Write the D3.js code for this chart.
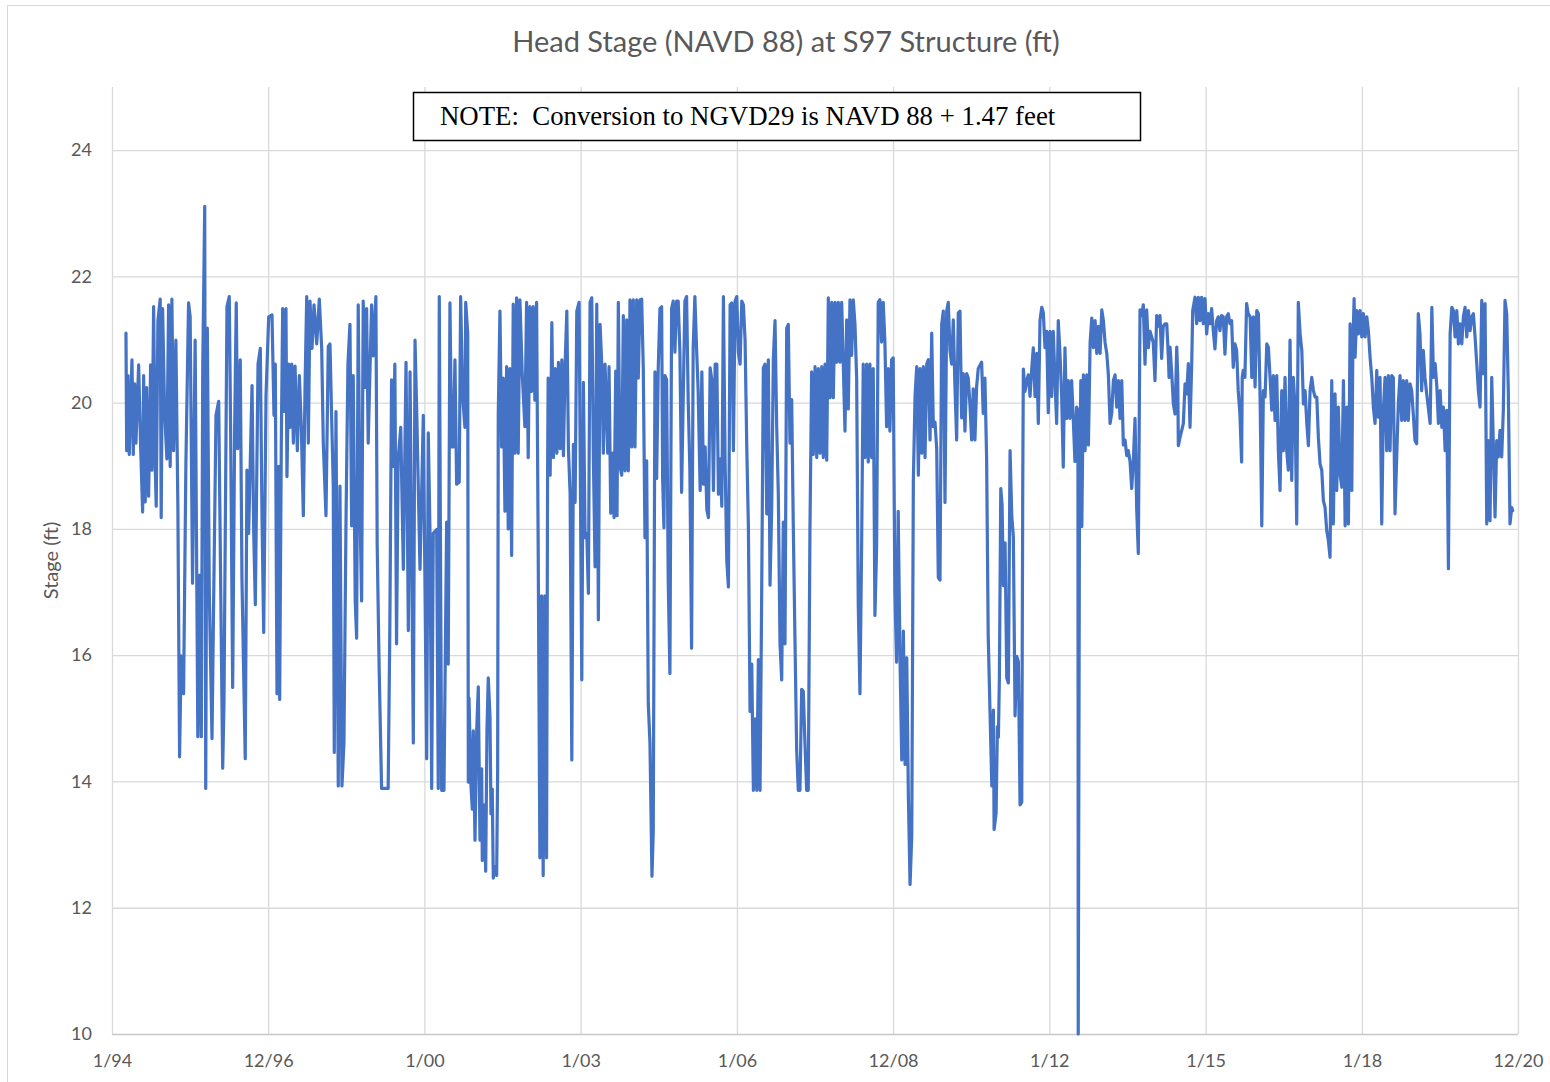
<!DOCTYPE html>
<html><head><meta charset="utf-8">
<script src="https://cdn.jsdelivr.net/npm/d3@7"></script>
<style>
body{margin:0;background:#fff;}
svg{display:block;}
</style></head><body>
<svg id="chart" width="1550" height="1082"></svg>
<script>
const titleText = "Head Stage (NAVD 88) at S97 Structure (ft)";
const noteText = "NOTE:  Conversion to NGVD29 is NAVD 88 + 1.47 feet";
const yAxisTitle = "Stage (ft)";
const yTicks = [10, 12, 14, 16, 18, 20, 22, 24];
const yDomain = [10, 25];
const xTickDates = ["1994-01-01","1996-12-31","2000-01-01","2003-01-01","2006-01-01","2008-12-31","2012-01-01","2015-01-01","2018-01-01","2020-12-31"];
const startDate = "1994-01-01";
const endDate = "2020-12-31";

// [weeks since 1994-01-01, head stage ft NAVD88]
const stage1994 = [[14,21.1],[14.7,19.24],[16,20.43],[17.3,19.18],[20,20.68],[21.3,19.18],[22.7,20.3],[24,19.36],[26.7,20.6],[28.7,19.3],[30.7,18.27],[31.7,20.43],[33.3,18.43],[34.7,20.24],[36.7,18.52],[38.7,20.6],[40,18.93],[41.7,21.52],[43.3,18.99],[44.3,18.36],[46,21.3],[48.3,21.64],[49.3,18.18],[50.7,21.49],[52.7,19.86],[55,19.11],[56.7,21.55],[58.3,18.99],[60,21.64],[61.7,19.24],[64,20.99],[66,18.36],[67.7,14.39],[69.3,15.99],[71.7,15.39],[74,18.99],[76.7,21.58],[78.3,21.36],[80.7,17.14],[83.3,20.99],[86,14.71],[88,17.27],[89.5,14.71],[90.9,20.55],[92.9,23.11],[93.9,13.89],[95.5,21.18],[97.5,16.99],[100.2,14.68],[101.9,16.93],[104.2,19.8],[106.9,20.02],[108.9,17.11],[110.9,14.21],[112.2,15.24],[115.2,21.52],[117.5,21.68],[118.9,19.49],[120.9,15.49],[122.9,19.61],[124.5,21.58],[125.9,19.27],[128.5,20.68],[130.2,17.21],[133.5,14.36],[135.2,18.93],[136.9,17.93],[140.3,20.27],[142,17.93],[143.6,16.8],[146.3,20.61],[148.6,20.86],[150.3,18.18],[152,16.36],[154.3,20.11],[157,21.36],[160.3,21.39],[162.3,19.8],[163.6,20.61],[165.3,15.39],[167,18.99],[168,15.3],[169.6,19.3],[171,21.49],[172.6,19.86],[174.3,21.49],[175.3,18.83],[177,20.61]];
const stage1997 = [[178.4,19.61],[180.1,20.61],[181.7,19.36],[183.4,20.58],[185.7,19.24],[187.7,20.43],[189.7,19.61],[191.7,18.21],[193.4,20.24],[195.1,21.68],[196.7,19.36],[198.4,21.61],[200.4,20.86],[202.4,21.55],[205.1,20.93],[207.7,21.64],[210.1,20.86],[211.7,19.36],[214.4,18.21],[216.7,20.89],[218.4,20.93],[220.1,19.74],[221.7,18.68],[222.7,14.46],[224.4,19.86],[226.7,13.93],[228.4,18.68],[230.4,13.93],[232.4,14.61],[234.4,18.05],[236.4,20.61],[238.4,21.24],[240.1,18.05],[241.7,20.43],[243.7,16.86],[245.1,16.27],[246.7,21.55],[248.4,18.36],[250.1,16.86],[251.7,21.61],[253.4,20.24],[255.1,21.49],[256.7,19.36],[260.1,21.55],[261.7,20.74],[264.4,21.68],[265.7,17.74],[267.7,15.77],[270.1,13.89],[276.7,13.89],[278.4,16.49],[280.1,20.36],[281.7,18.99],[283.4,20.61],[285.1,16.18],[286.7,19.11],[289.3,19.61],[291.9,17.36],[294.6,20.64],[296.9,16.39],[298.6,20.49],[300.3,17.55],[301.9,14.61],[303.6,20.99],[305.3,19.86],[308.6,17.36],[311.9,19.8],[315.3,14.36],[316.9,19.52],[318.6,17.96],[320.3,13.89],[321.9,17.93],[325.3,17.99],[326.9,13.89],[327.9,21.68],[330.3,13.86],[332.6,13.86],[335.3,18.11],[336.9,15.86],[338.6,21.58],[340.3,19.3],[341.9,19.3],[343.6,20.68],[345.3,18.71],[347.9,18.74],[349.3,21.68],[351.3,20.11],[353.6,19.61]];
const stage2000 = [[354.4,21.59],[356.4,21.1],[357,13.99],[357.7,15.32],[359.7,13.92],[361,13.56],[362,14.8],[363.7,13.07],[365.4,14.8],[367,15.5],[368.7,13.07],[370.4,14.2],[371,12.75],[373,13.63],[374.4,12.58],[375.7,14.83],[377,15.64],[378.7,15.04],[379.7,13.49],[381,13.88],[382,12.47],[383.7,12.65],[385.4,12.51],[386.4,14.2],[387,19.8],[388.7,21.45],[390.4,19.3],[392,20.39],[393.7,18.28],[395.4,20.57],[397,18.0],[398.7,20.54],[400.4,17.58],[402,21.56],[403.7,19.2],[405.4,21.66],[407,19.2],[408.7,21.63],[411,20.46],[413.7,19.62],[415.4,21.59],[417,19.13],[418.7,21.52],[420.4,20.18],[422,21.52],[423.7,20.04],[425.4,21.59],[427,17.72],[428.7,12.79],[430.4,16.94],[432,12.51],[433.7,16.94],[435.4,12.79],[436.4,18.77],[437,20.39],[439,18.85],[440.7,21.27],[442.3,19.13],[444,20.54],[445.7,19.2],[447.3,20.64],[449,19.27],[450.7,20.68],[452.3,19.16],[454,20.61],[455.7,21.45],[457.3,19.27],[459,18.56],[460.7,14.34],[462.3,19.34],[464,18.42],[465.7,21.45],[468,21.59],[470.7,15.61],[472.3,20.32],[474,17.86],[475.7,17.93],[477.3,16.98],[479,21.59],[480.7,21.66],[482.3,19.13],[484,17.4],[485.7,21.56],[487.3,16.56],[489,21.24],[490.7,20.61],[492.3,19.2],[494,20.61],[496.7,19.2],[498,20.57],[499.7,18.25],[501.3,19.2],[503,18.18],[504.7,20.5],[506,18.21],[507.3,21.59],[509,18.99],[510.7,18.85],[512.3,21.38],[514,18.92],[515.7,21.31],[517.3,18.92],[519,21.63],[520.7,19.3],[522.3,21.63],[524,19.3],[525.7,21.63],[527.3,20.39],[529,21.63]];
const stage2003 = [[530.7,21.64],[532.3,20.55],[534,17.86],[535.7,19.08],[537.3,15.24],[539,14.61],[541,12.5],[542.3,13.2],[544,20.49],[545.7,18.8],[547.3,20.55],[549,21.49],[550.7,21.52],[551.7,18.8],[553,18.02],[554,20.43],[555.7,20.36],[557.3,17.18],[559,15.71],[560.7,21.49],[562.3,21.61],[564,20.8],[565.7,21.61],[567.3,21.61],[569,20.8],[570.7,18.58],[572.3,20.05],[574,21.61],[575.7,21.68],[577.3,20.05],[579,18.93],[580.7,16.11],[582.3,20.86],[584,21.68],[585.7,20.86],[587.3,20.18],[589.3,18.61],[591,20.49],[592.6,18.71],[594.3,19.3],[596,18.3],[597.6,18.18],[599.3,20.55],[601,20.36],[602.6,18.61],[604.3,20.61],[606,20.61],[607.6,18.55],[609.3,19.11],[611,18.36],[612.6,21.68],[614.3,19.05],[616,17.49],[617.6,17.08],[619.3,21.55],[621,21.58],[622.6,19.24],[624.3,21.61],[626,21.68],[627.6,20.8],[629.3,20.61],[631,21.61],[632.6,21.55],[634.3,20.99],[636,19.3],[637.6,18.05],[639.3,15.11],[641,15.86],[642.6,13.86],[644.3,14.99],[646,13.86],[647.6,15.93],[649.3,13.86],[651,17.11],[652.6,20.55],[654.3,20.61],[656,18.24],[657.6,20.68],[659.3,17.11],[661,18.36],[662.6,20.68],[664.3,21.3],[666,19.61],[667.6,18.55],[669.3,16.18],[671,15.61],[672.6,18.11],[674.3,16.18],[676,21.18],[677.6,21.24],[679.3,19.36],[681,20.05],[682.6,18.05],[684.3,16.24],[686,14.49],[687.6,13.86],[689.3,13.86],[691,15.46],[692.6,15.43],[694.3,14.61],[696,13.86],[697.6,13.86],[699.3,17.99],[701,20.49],[702.6,19.18]];
const stage2006 = [[704.4,20.57],[706.1,19.13],[707.7,20.54],[709.4,19.2],[711.1,20.57],[712.7,19.13],[714.4,20.61],[716.1,19.09],[717.7,21.66],[719.4,20.08],[721.1,21.59],[722.7,20.08],[724.4,21.59],[726.1,20.64],[727.7,21.59],[729.4,20.64],[731.1,21.59],[734.4,19.55],[736.1,21.31],[737.7,19.9],[739.4,21.63],[741.1,20.75],[742.7,21.63],[744.4,21.24],[746.1,20.39],[747.7,16.8],[749.4,15.39],[751.1,17.79],[752.7,20.61],[754.4,19.13],[756.1,20.61],[757.7,19.06],[759.4,20.61],[761.1,19.13],[762.7,20.54],[764.4,16.63],[766.1,17.72],[767.7,21.59],[769.4,21.63],[771.1,20.96],[772.7,21.59],[774.4,20.96],[776.1,19.62],[777.7,20.54],[779.4,19.55],[781.1,20.68],[782.7,20.71],[784.4,17.01],[786.1,15.89],[787.7,18.28],[789.6,15.89],[791.3,14.34],[792.9,16.38],[794.6,14.27],[796.3,15.96],[797.9,13.77],[799.6,12.37],[801.3,13.14],[802.9,18.77],[804.6,20.11],[806.3,20.57],[807.9,18.85],[809.6,20.54],[811.3,19.2],[812.9,20.57],[814.6,19.13],[816.3,20.61],[817.9,20.68],[819.6,19.41],[821.3,21.1],[822.9,19.62],[824.6,19.69],[826.3,19.27],[827.9,17.23],[829.6,17.19],[831.3,21.24],[832.9,21.45],[834.6,18.42],[836.3,21.45],[837.9,21.59],[839.6,20.82],[841.3,20.61],[842.9,21.31],[844.6,20.25],[846.3,19.41],[847.9,21.42],[849.6,21.45],[851.3,19.76],[852.9,20.46],[854.6,19.55],[856.3,20.46],[857.9,20.39],[859.6,19.97],[861.3,19.41],[862.9,20.22],[864.6,19.41],[866.3,20.25],[867.9,20.54],[871.3,20.64],[872.9,19.83],[874.6,20.39],[876.3,19.13],[877.9,16.31],[879.6,15.18]];
const stage2009 = [[881.5,13.93],[883.1,15.13],[883.8,13.24],[885.8,13.5],[887.1,14.87],[888.1,14.7],[889.1,15.64],[890.5,18.64],[891.8,18.38],[893.1,17.1],[894.8,17.78],[896.5,15.64],[898.1,15.56],[899.8,19.24],[901.5,18.21],[903.1,17.87],[904.8,15.04],[906.5,15.98],[908.1,15.9],[909.8,13.63],[911.5,13.67],[912.5,18.64],[913.1,20.53],[914.8,20.18],[916.5,20.35],[918.1,20.44],[919.8,20.1],[921.5,20.53],[923.1,20.87],[924.8,20.1],[926.5,20.78],[928.1,19.67],[929.8,21.3],[931.5,21.51],[933.1,21.43],[934.8,20.87],[936.5,21.13],[938.1,19.84],[939.8,21.13],[941.5,20.1],[943.1,21.13],[944.8,20.35],[946.5,19.67],[948.1,21.3],[949.8,20.78],[951.5,20.1],[953.1,18.98],[954.8,20.87],[956.5,19.75],[958.1,20.35],[959.8,19.75],[961.5,20.35],[963.1,19.75],[964.8,19.07],[966.5,19.93],[967.8,19.88],[968.1,10.0],[969.3,18.1],[970.7,20.35],[971.7,18.04],[973.3,20.44],[975,19.24],[976.7,20.44],[978.3,19.33],[980,20.95],[981.7,21.34],[983.3,20.87],[985,21.3],[986.7,20.78],[988.3,21.21],[990,20.78],[991.7,21.47],[993.3,21.3],[995,20.95],[996.7,20.78],[998.3,20.44],[1000,19.67],[1001.7,19.84],[1003.3,20.35],[1005,20.44],[1006.7,19.93],[1008.3,20.35],[1010,19.75],[1011.7,20.35],[1013.3,19.33],[1015,19.41],[1016.7,19.16],[1018.3,19.24],[1020,19.07],[1021.7,18.64],[1023.3,19.07],[1025,19.75],[1026.7,18.3],[1028.3,17.61],[1030,21.47],[1031.7,21.38],[1033.3,21.55],[1035,20.61],[1036.7,21.47],[1038.3,20.87],[1040,21.13],[1041.7,21.04],[1043.3,20.95],[1045,20.35],[1046.7,21.38],[1048.3,21.21],[1050,21.38],[1051.7,20.7],[1053.3,21.21]];
const stage2012 = [[1055.1,21.25],[1056.8,21.25],[1058.4,20.72],[1059.1,20.4],[1060.1,20.88],[1061.8,20.46],[1063.4,19.98],[1065.1,19.82],[1066.8,20.88],[1067.8,20.4],[1068.4,19.32],[1070.1,19.45],[1071.8,19.56],[1073.4,19.67],[1075.1,20.3],[1076.8,20.14],[1078.4,20.62],[1080.1,19.61],[1081.8,20.62],[1082.8,21.46],[1085.1,21.67],[1086.8,21.25],[1088.4,21.67],[1090.1,21.3],[1091.8,21.67],[1093.4,21.25],[1095.1,21.65],[1096.8,21.09],[1098.4,21.41],[1100.1,21.25],[1101.8,21.49],[1103.4,21.14],[1105.1,20.85],[1106.8,21.3],[1108.4,21.36],[1110.1,21.14],[1111.8,21.38],[1113.4,21.36],[1115.1,20.77],[1116.8,21.36],[1118.4,21.41],[1120.1,21.25],[1121.8,21.3],[1123.4,20.56],[1125.1,20.93],[1126.8,20.83],[1128.4,20.19],[1130.1,19.82],[1131.8,19.06],[1132.4,20.4],[1133.4,20.51],[1135.1,20.4],[1136.8,21.57],[1138.4,21.41],[1140.3,21.36],[1142,20.4],[1143.6,21.36],[1145.3,20.25],[1147,21.46],[1148.6,21.41],[1150.3,20.09],[1152,18.05],[1153.6,20.19],[1155.3,20.09],[1157,20.93],[1158.6,20.88],[1160.3,20.4],[1162,19.88],[1163.6,20.43],[1165.3,19.72],[1167,20.43],[1168.6,19.24],[1170.3,18.61],[1172,20.19],[1173.6,19.24],[1175.3,20.4],[1177,19.24],[1178.6,18.93],[1180.3,20.99],[1182,18.77],[1183.6,20.4],[1185.3,19.93],[1187,18.08],[1188.6,21.59],[1190.4,21.09],[1192.1,20.83],[1193.7,19.98],[1195.4,20.19],[1197.1,19.67],[1198.7,19.32],[1200.4,20.19],[1202.1,20.4],[1203.7,20.19],[1205.4,20.09],[1207.1,20.09],[1208.7,19.45],[1210.4,19.03],[1212.1,18.93],[1213.7,18.45],[1215.4,18.34],[1217.1,17.97],[1218.7,17.82],[1220.4,17.55],[1222.1,20.35],[1223.7,18.08],[1225.4,20.14],[1227.1,18.61],[1228.7,19.93],[1230.4,18.87]];
const stage2015 = [[1232.2,18.66],[1233.8,20.35],[1235.5,18.05],[1237.2,19.93],[1238.8,18.08],[1240.5,21.25],[1242.2,18.61],[1243.2,20.83],[1244.5,21.65],[1245.5,20.72],[1247.2,21.46],[1248.8,21.09],[1250.5,21.46],[1252.2,21.04],[1253.8,21.41],[1255.5,21.04],[1257.2,21.36],[1258.8,21.14],[1260.5,20.72],[1262.2,20.4],[1263.8,19.93],[1265.5,19.67],[1267.2,20.51],[1268.8,19.77],[1270.5,20.4],[1272.2,18.08],[1273.8,19.88],[1275.5,20.4],[1277.2,19.24],[1278.8,20.43],[1280.5,19.24],[1282.2,20.43],[1283.8,20.4],[1285.5,18.24],[1287.2,19.14],[1288.8,19.98],[1290.5,20.43],[1292.2,19.72],[1293.8,20.35],[1295.5,19.72],[1297.2,20.35],[1298.8,19.72],[1300.5,20.3],[1302.2,20.19],[1303.8,19.82],[1305.5,19.4],[1307.2,19.35],[1308.8,21.41],[1310.5,21.09],[1312.2,20.19],[1313.8,20.83],[1315.5,20.4],[1317.2,20.14],[1318.8,19.93],[1320.7,19.67],[1322.4,21.51],[1324,20.4],[1325.7,20.62],[1327.4,20.25],[1329,19.67],[1330.7,20.19],[1332.4,19.61],[1334,19.93],[1335.7,19.24],[1337.4,19.88],[1339,17.37],[1340.7,21.09],[1342.4,21.51],[1344,21.46],[1345.7,21.04],[1347.4,21.46],[1349,20.93],[1350.7,21.25],[1352.4,20.93],[1354,21.36],[1355.7,21.51],[1357.4,21.04],[1359,21.46],[1360.7,21.14],[1362.4,21.36],[1364,21.41],[1365.7,21.04],[1367.4,20.62],[1369,20.19],[1370.7,19.93],[1372.4,21.62],[1374,20.46],[1375.7,21.57],[1377.4,18.08],[1379,19.4],[1380.7,18.13],[1382.4,20.4],[1384,19.35],[1385.7,18.19],[1387.4,19.4],[1389,19.14],[1390.7,19.56],[1392.4,19.14],[1394,19.88],[1395.7,21.62],[1397.4,21.41],[1399,20.19],[1400.7,18.08],[1402.4,18.34],[1403.4,18.29]];

const parse = d3.timeParse("%Y-%m-%d");
const t0 = parse(startDate);
const DAY = 864e5;
const series = [].concat(stage1994, stage1997, stage2000, stage2003, stage2006, stage2009, stage2012, stage2015)
  .map(([w, v]) => ({ date: new Date(t0.getTime() + w * 7 * DAY), value: v }));
const xTicks = xTickDates.map(parse);

const svg = d3.select("#chart");
const W = 1550, H = 1082;
const plot = { left: 112, right: 1518, top: 87, bottom: 1034 };
const FONT = "Lato, 'Open Sans', sans-serif";

svg.append("rect").attr("width", W).attr("height", H).attr("fill", "#fff");
svg.append("rect").attr("x", 7.5).attr("y", 5.5).attr("width", W).attr("height", H)
  .attr("fill", "none").attr("stroke", "#d9d9d9").attr("stroke-width", 1);

const x = d3.scaleTime().domain([t0, parse(endDate)]).range([plot.left, plot.right]);
const y = d3.scaleLinear().domain(yDomain).range([plot.bottom, plot.top]);

// vertical gridlines
svg.append("g").attr("transform", `translate(0,${plot.bottom})`)
  .call(d3.axisBottom(x).tickValues(xTicks).tickSize(-(plot.bottom - plot.top)).tickFormat(""))
  .call(g => g.select(".domain").remove())
  .call(g => g.selectAll(".tick line").attr("stroke", "#d9d9d9").attr("stroke-width", 1.3));

// horizontal gridlines
svg.append("g").attr("transform", `translate(${plot.left},0)`)
  .call(d3.axisLeft(y).tickValues(yTicks).tickSize(-(plot.right - plot.left)).tickFormat(""))
  .call(g => g.select(".domain").remove())
  .call(g => g.selectAll(".tick line").attr("stroke", d => d === yDomain[0] ? "#c8c8c8" : "#d9d9d9").attr("stroke-width", 1.3));

// x labels
svg.append("g").attr("transform", `translate(0,${plot.bottom})`)
  .call(d3.axisBottom(x).tickValues(xTicks).tickSize(0).tickPadding(20).tickFormat(d3.timeFormat("%-m/%y")))
  .call(g => g.select(".domain").remove())
  .call(g => g.selectAll("text").attr("fill", "#595959").style("font-family", FONT).style("font-size", "18px"));

// y labels
svg.append("g").attr("transform", `translate(${plot.left},0)`)
  .call(d3.axisLeft(y).tickValues(yTicks).tickSize(0).tickPadding(20))
  .call(g => g.select(".domain").remove())
  .call(g => g.selectAll("text").attr("fill", "#595959").style("font-family", FONT).style("font-size", "18px"));

// line
const line = d3.line().x(d => x(d.date)).y(d => y(d.value));
svg.append("path").datum(series)
  .attr("d", line).attr("fill", "none").attr("stroke", "#4472C4")
  .attr("stroke-width", 3.2).attr("stroke-linejoin", "round").attr("stroke-linecap", "round");

// title
svg.append("text").attr("x", 786).attr("y", 52).attr("text-anchor", "middle")
  .attr("fill", "#595959").style("font-family", FONT).style("font-size", "29px").text(titleText);

// y axis title
svg.append("text").attr("transform", `translate(58,${(plot.top + plot.bottom) / 2}) rotate(-90)`)
  .attr("text-anchor", "middle").attr("fill", "#595959")
  .style("font-family", FONT).style("font-size", "20px").text(yAxisTitle);

// note box
svg.append("rect").attr("x", 413.5).attr("y", 92.5).attr("width", 727).attr("height", 48)
  .attr("fill", "#fff").attr("stroke", "#000").attr("stroke-width", 1.5);
svg.append("text").attr("x", 440).attr("y", 125).attr("fill", "#000")
  .style("font-family", "'Liberation Serif', 'Times New Roman', serif").style("font-size", "26.8px")
  .style("white-space", "pre").attr("xml:space", "preserve").text(noteText);
</script>
</body></html>
